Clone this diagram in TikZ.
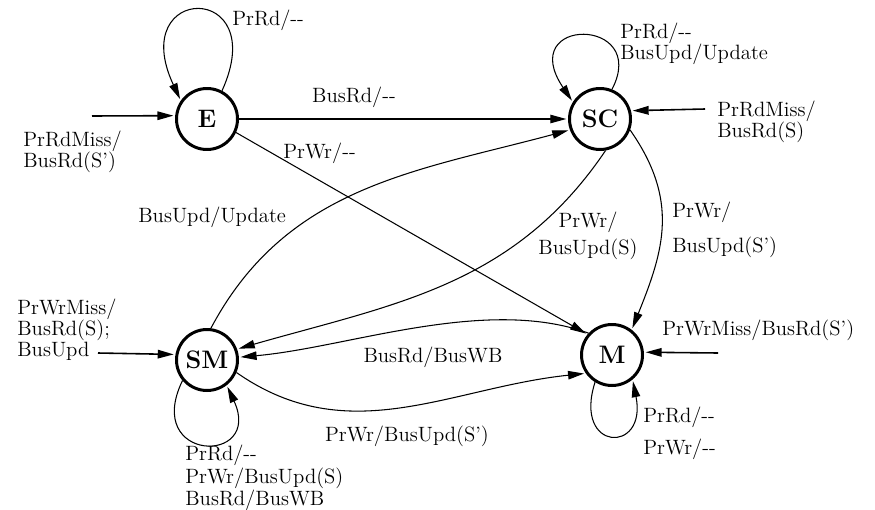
\documentclass[tikz,border=0pt]{standalone}
\usepackage{tikz}
\usetikzlibrary{automata,positioning,arrows.meta}

\begin{document}
\begin{tikzpicture}
	[>={Triangle[length=3.2mm,width=1.7mm]}, shorten >= 1pt, node distance = 2cm, on grid,
	 every state/.style={draw, line width=1.7pt, minimum size=1.22cm, inner sep=0pt, font=\Large\bfseries},
	 lbl/.style={font=\fontsize{11.8pt}{12pt}\selectfont, inner sep=0pt, align=left},
	 trans/.style={->, line width=0.6pt},
	 input/.style={->, line width=0.9pt}]
\useasboundingbox (0,0) rectangle (17.5,10.18);

\node[state](E) at (4.14,7.8) {E};
\node[state](SC)[right = 7.86cm of E]{SC};
\node[state](SM)[below = 4.82cm of E]{SM};
\node[state](M)[right = 8.1cm of SM, yshift=0.1cm]{M};

% incoming misses
\coordinate (Ein) at (1.84,7.86);
\coordinate (SCin) at (14.1,8.0);
\coordinate (SMin) at (1.96,3.12);
\coordinate (Min) at (14.36,3.12);
\draw[input] (Ein) -- (E.174);
\draw[input] (SCin) -- (SC.15);
\draw[input] (SMin) -- (SM.170);
\draw[input] (Min) -- (M.5);

\path[trans]
	(E)	edge (SC)
	(E.-25)	edge (M.140)
	(SM.83)	edge [out=62, in=195] (SC.200)
	(SC.-80)	edge [out=236, in=16] (SM.20)
	(SC.-20)	edge [out=-55, in=68, looseness=1.1] (M.52)
	(M.137)	edge [out=160, in=5, looseness=0.8] (SM.5)
	(SM.-23)	edge [out=-35, in=186] (M.215);

% self loops
\draw[trans] (E.62) .. controls +(1.0,2.2) and +(-1.1,2.35) .. (E.145);
\draw[trans] (SC.68) .. controls +(0.76,1.46) and +(-1.16,1.72) .. (SC.148);
\draw[trans] (SM.220) .. controls +(-0.8,-1.65) and +(0.74,-1.6) .. (SM.-52);
\draw[trans] (M.238) .. controls +(-0.45,-1.4) and +(0.3,-1.5) .. (M.-50);

% labels
\node[lbl, anchor=west](l_Ein) at (0.46,7.14) {PrRdMiss/\\BusRd(S')};
\node[lbl, anchor=west](l_SCin) at (14.34,7.74) {PrRdMiss/\\BusRd(S)};
\node[lbl, anchor=west](l_SMin) at (0.34,3.58) {PrWrMiss/\\BusRd(S);\\BusUpd};
\node[lbl, anchor=west](l_Min) at (13.24,3.58) {PrWrMiss/BusRd(S')};
\node[lbl, anchor=west](l_Eloop) at (4.64,9.78) {PrRd/-{}-};
\node[lbl, anchor=west](l_SCloop) at (12.4,9.3) {PrRd/-{}-\\BusUpd/Update};
\node[lbl, anchor=west, font=\fontsize{11.8pt}{11.5pt}\selectfont](l_SMloop) at (3.7,0.62) {PrRd/-{}-\\PrWr/BusUpd(S)\\BusRd/BusWB};
\node[lbl, anchor=west](l_Mloop) at (12.86,1.51) {PrRd/-{}-\\[6.5pt]PrWr/-{}-};
\node[lbl](l_ESC) at (7.08,8.24) {BusRd/-{}-};
\node[lbl, anchor=west](l_EM) at (5.66,7.12) {PrWr/-{}-};
\node[lbl, anchor=west](l_SMSC) at (2.76,5.84) {BusUpd/Update};
\node[lbl, align=center](l_SCSM) at (11.76,5.46) {PrWr/\\[3.5pt]BusUpd(S)};
\node[lbl, anchor=west](l_SCM) at (13.44,5.58) {PrWr/\\[8pt]BusUpd(S')};
\node[lbl](l_MSM) at (8.66,3.04) {BusRd/BusWB};
\node[lbl](l_SMM) at (8.14,1.46) {PrWr/BusUpd(S')};
\end{tikzpicture}
\end{document}
